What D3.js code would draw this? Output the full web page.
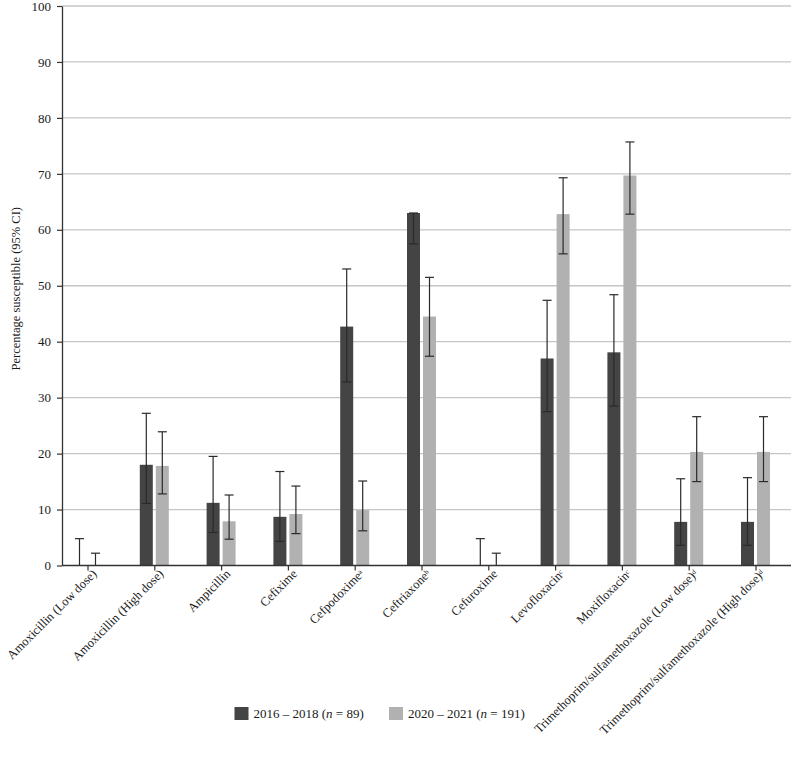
<!DOCTYPE html>
<html lang="en">
<head>
  <meta charset="UTF-8" />
  <title>Percentage susceptible</title>
  <script src="https://d3js.org/d3.v7.min.js"></script>
  <style>
    body { margin: 0; padding: 0; background: #ffffff; }
    #chart { width: 794px; height: 757px; }
    text { font-family: "Liberation Serif", "DejaVu Serif", serif; fill: #1a1a1a; }
  </style>
</head>
<body>
  <div id="chart"></div>

  <script>
    // categories (antibiotics) with superscript notes
    const drugs = [
      "Amoxicillin (Low dose)", "Amoxicillin (High dose)", "Ampicillin", "Cefixime",
      "Cefpodoxime", "Ceftriaxone", "Cefuroxime", "Levofloxacin", "Moxifloxacin",
      "Trimethoprim/sulfamethoxazole (Low dose)", "Trimethoprim/sulfamethoxazole (High dose)"
    ];
    const notes = ["", "", "", "", "a", "b", "", "c", "c", "d", "d"];

    // 2016 - 2018 (n = 89)
    const early = [0, 18.0, 11.2, 8.7, 42.7, 63.0, 0, 37.0, 38.1, 7.8, 7.8];
    const earlyLow = [0, 11.1, 5.9, 4.3, 32.8, 57.5, 0, 27.5, 28.5, 3.6, 3.6];
    const earlyHigh = [4.8, 27.2, 19.5, 16.8, 53.0, 63.0, 4.8, 47.4, 48.4, 15.5, 15.7];

    // 2020 - 2021 (n = 191)
    const late = [0, 17.8, 7.9, 9.2, 9.9, 44.5, 0, 62.8, 69.7, 20.3, 20.3];
    const lateLow = [0, 12.8, 4.7, 5.7, 6.2, 37.4, 0, 55.7, 62.8, 15.0, 15.0];
    const lateHigh = [2.2, 23.9, 12.6, 14.2, 15.1, 51.5, 2.2, 69.3, 75.7, 26.6, 26.6];

    const seriesNames = ["2016 \u2013 2018", "2020 \u2013 2021"];
    const seriesN = ["89", "191"];
    const colors = ["#444444", "#b1b1b1"];
    const yTicks = [0, 10, 20, 30, 40, 50, 60, 70, 80, 90, 100];

    const width = 794, height = 757;
    const axisLeftX = 62, axisRightX = 791;
    const yTop = 6, yBottom = 565.5;

    const svg = d3.select("#chart").append("svg")
      .attr("width", width)
      .attr("height", height);

    const x = d3.scalePoint()
      .domain(drugs)
      .range([87.5, 755.5]);

    const y = d3.scaleLinear()
      .domain([0, 100])
      .range([yBottom, yTop]);

    // gridlines
    svg.append("g")
      .selectAll("line")
      .data(yTicks.filter(t => t > 0))
      .enter()
      .append("line")
      .attr("x1", axisLeftX)
      .attr("x2", axisRightX)
      .attr("y1", d => y(d))
      .attr("y2", d => y(d))
      .attr("stroke", "#c6c6c6")
      .attr("stroke-width", 1.3);

    // y axis
    const yAxis = svg.append("g")
      .attr("transform", `translate(${axisLeftX},0)`)
      .call(d3.axisLeft(y).tickValues(yTicks).tickSize(5).tickPadding(6).tickSizeOuter(0));
    yAxis.select(".domain").attr("stroke", "#333").attr("stroke-width", 1.3);
    yAxis.selectAll(".tick line").attr("stroke", "#333").attr("stroke-width", 1.2);
    yAxis.selectAll("text")
      .style("font-size", "13px")
      .style("font-family", "'Liberation Serif', serif")
      .attr("fill", "#1a1a1a");

    svg.append("text")
      .attr("transform", `translate(20,${y(50) + 3}) rotate(-90)`)
      .attr("text-anchor", "middle")
      .style("font-size", "12.5px")
      .text("Percentage susceptible (95% CI)");

    // bars
    const offsets = [-8, 8];
    const barW = 13;
    const sets = [
      { vals: early, lo: earlyLow, hi: earlyHigh },
      { vals: late, lo: lateLow, hi: lateHigh }
    ];

    sets.forEach((s, si) => {
      const rows = drugs.map((d, i) => ({ drug: d, v: s.vals[i], lo: s.lo[i], hi: s.hi[i] }));
      const g = svg.append("g");
      g.selectAll("rect")
        .data(rows.filter(r => r.v > 0))
        .enter()
        .append("rect")
        .attr("x", r => x(r.drug) + offsets[si] - barW / 2)
        .attr("y", r => y(r.v))
        .attr("width", barW)
        .attr("height", r => y(0) - y(r.v))
        .attr("fill", colors[si]);

      // error bars
      const eb = g.selectAll(".eb")
        .data(rows)
        .enter()
        .append("g")
        .attr("class", "eb")
        .attr("stroke", "#2a2a2a")
        .attr("stroke-width", 1.2);
      eb.append("line")
        .attr("x1", r => x(r.drug) + offsets[si])
        .attr("x2", r => x(r.drug) + offsets[si])
        .attr("y1", r => y(r.lo))
        .attr("y2", r => y(r.hi));
      eb.append("line")
        .attr("x1", r => x(r.drug) + offsets[si] - 4.5)
        .attr("x2", r => x(r.drug) + offsets[si] + 4.5)
        .attr("y1", r => y(r.hi))
        .attr("y2", r => y(r.hi));
      eb.filter(r => r.lo > 0).append("line")
        .attr("x1", r => x(r.drug) + offsets[si] - 4.5)
        .attr("x2", r => x(r.drug) + offsets[si] + 4.5)
        .attr("y1", r => y(r.lo))
        .attr("y2", r => y(r.lo));
    });

    // x axis
    svg.append("line")
      .attr("x1", axisLeftX)
      .attr("x2", axisRightX)
      .attr("y1", yBottom)
      .attr("y2", yBottom)
      .attr("stroke", "#333")
      .attr("stroke-width", 1.3);

    const xAxis = svg.append("g")
      .attr("transform", `translate(0,${yBottom})`)
      .call(d3.axisBottom(x).tickSize(5).tickSizeOuter(0).tickFormat(""));
    xAxis.select(".domain").remove();
    xAxis.selectAll(".tick line").attr("stroke", "#333").attr("stroke-width", 1.2);

    // rotated category labels
    const labels = svg.append("g");
    drugs.forEach((d, i) => {
      const t = labels.append("text")
        .attr("transform", `translate(${x(d) + 10},${yBottom + 9}) rotate(-45)`)
        .attr("text-anchor", "end")
        .style("font-size", "12.5px");
      t.append("tspan").text(d);
      if (notes[i]) {
        t.append("tspan")
          .attr("dy", "-0.45em")
          .style("font-size", "7px")
          .text(notes[i]);
      }
    });

    // legend
    const legendX = [234.5, 389];
    seriesNames.forEach((name, i) => {
      const lg = svg.append("g")
        .attr("transform", `translate(${legendX[i]},707)`);
      lg.append("rect")
        .attr("width", 14)
        .attr("height", 13)
        .attr("fill", colors[i]);
      const t = lg.append("text")
        .attr("x", 19)
        .attr("y", 11)
        .style("font-size", "13px");
      t.append("tspan").text(name + " (");
      t.append("tspan").style("font-style", "italic").text("n");
      t.append("tspan").text(" = " + seriesN[i] + ")");
    });
  </script>
</body>
</html>
